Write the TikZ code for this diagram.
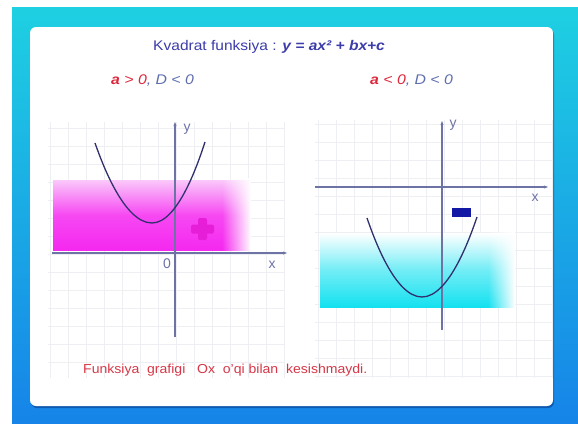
\documentclass[tikz,border=0pt]{standalone}
\usepackage{fontspec}
\setmainfont{Liberation Sans}
\usetikzlibrary{fadings,arrows.meta}
\definecolor{framecyan}{RGB}{30,208,226}
\definecolor{frameblue}{RGB}{22,132,232}
\definecolor{shadowcol}{RGB}{10,60,140}
\definecolor{titleblue}{RGB}{60,60,170}
\definecolor{condred}{RGB}{220,40,60}
\definecolor{condblue}{RGB}{95,110,175}
\definecolor{axiscol}{RGB}{110,115,165}
\definecolor{curvecol}{RGB}{48,48,110}
\definecolor{magband}{RGB}{245,40,240}
\definecolor{magtop}{RGB}{250,200,250}
\definecolor{cyanband}{RGB}{20,225,240}
\definecolor{plusmag}{RGB}{230,30,215}
\definecolor{minusblue}{RGB}{20,25,165}
\definecolor{bottomred}{RGB}{215,55,70}
\definecolor{gridcol}{RGB}{238,239,243}
\tikzset{
  axisline/.style={draw=axiscol,line width=1.1pt,-{Stealth[length=4pt,width=3pt]}},
  curve/.style={draw=curvecol,line width=1.3pt},
  axlabel/.style={text=axiscol,font=\fontsize{14}{14}\selectfont,inner sep=0pt},
  gridlines/.style={draw=gridcol,line width=0.5pt},
}
\begin{document}
\begin{tikzpicture}[x=1pt,y=-1pt]
\useasboundingbox (0,0) rectangle (578,423);
\fill[white] (0,0) rectangle (578,423);
% frame
\shade[top color=framecyan,bottom color=frameblue] (12,7) rectangle (578,423);
% shadow and panel
\fill[shadowcol,opacity=0.6,rounded corners=6pt] (31,29) rectangle (554,408);
\fill[white,rounded corners=6pt] (30,27) rectangle (553,406);
% grids
\foreach \gx in {50,68,...,284} \draw[gridlines] (\gx,122) -- (\gx,378);
\foreach \gy in {128,146,...,378} \draw[gridlines] (48,\gy) -- (285,\gy);
\foreach \gx in {318,336,...,552} \draw[gridlines] (\gx,120) -- (\gx,378);
\foreach \gy in {124,142,...,378} \draw[gridlines] (315,\gy) -- (552,\gy);
% magenta band
\shade[top color=magtop,bottom color=magband,middle color=magband!85] (53,180) rectangle (250,250);
\fill[white,path fading=west] (222,178) rectangle (251,251);
% cyan band
\shade[top color=white,bottom color=cyanband,middle color=cyanband!60] (320,233) rectangle (514,307);
\fill[white,path fading=west] (488,231) rectangle (515,308);
% left axes
\coordinate (lxa) at (52,253);
\coordinate (lxb) at (287,253);
\coordinate (lya) at (175,337);
\coordinate (lyb) at (175,122);
\draw[axisline] (lxa) -- (lxb);
\draw[axisline] (lya) -- (lyb);
\node[axlabel] (ly) at (187,129) {y};
\node[axlabel] (lx) at (272,265) {x};
\node[axlabel] (lo) at (167,264) {0};
% left curve
\coordinate (lp1) at (95,143);
\coordinate (lpv) at (152,223);
\coordinate (lp2) at (205,142);
\draw[curve] (lp1) parabola bend (lpv) (lp2);
% plus
\fill[plusmag,rounded corners=1.5pt] (191,224.5) rectangle (214,233.5);
\fill[plusmag,rounded corners=1.5pt] (198,218) rectangle (207,240);
% right axes
\coordinate (rxa) at (315,187);
\coordinate (rxb) at (548,187);
\coordinate (rya) at (442,330);
\coordinate (ryb) at (442,121);
\draw[axisline] (rxa) -- (rxb);
\draw[axisline] (rya) -- (ryb);
\node[axlabel] (ry) at (453,125) {y};
\node[axlabel] (rx) at (535,198) {x};
% right curve
\coordinate (rp1) at (367,218);
\coordinate (rpv) at (422,297);
\coordinate (rp2) at (477,217);
\draw[curve] (rp1) parabola bend (rpv) (rp2);
% minus
\fill[minusblue] (452,208) rectangle (471,217);
% texts
\node[anchor=west,inner sep=0pt,xscale=1.11,text=titleblue,font=\fontsize{14}{14}\selectfont] (title) at (153,47)
  {Kvadrat funksiya : \textbf{\textit{y = ax² + bx+c}}};
\node[anchor=west,inner sep=0pt,xscale=1.13,font=\fontsize{14}{14}\selectfont] (condl) at (111,81)
  {\textcolor{condred}{\textbf{\textit{a}} \textit{>} \textit{0}}\textcolor{condblue}{\textit{, D < 0}}};
\node[anchor=west,inner sep=0pt,xscale=1.13,font=\fontsize{14}{14}\selectfont] (condr) at (370,81)
  {\textcolor{condred}{\textbf{\textit{a}} \textit{<} \textit{0}}\textcolor{condblue}{\textit{, D < 0}}};
\node[anchor=west,inner sep=0pt,xscale=1.08,text=bottomred,font=\fontsize{13}{13}\selectfont] (note) at (83,370)
  {Funksiya\ \ grafigi\ \ \ Ox\ \ o'qi bilan\ \ kesishmaydi.};
\end{tikzpicture}
\end{document}
